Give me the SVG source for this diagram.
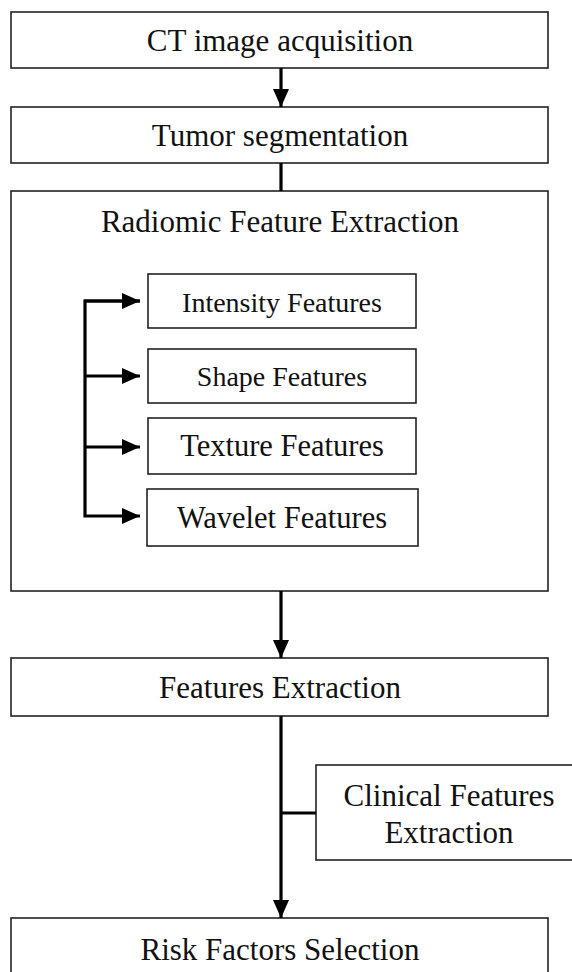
<svg xmlns="http://www.w3.org/2000/svg" width="572" height="972" viewBox="0 0 572 972">
<style>
.box{fill:#fff;stroke:#222;stroke-width:1.6}
.t{font-family:"Liberation Serif","Times New Roman",serif;font-size:31px;fill:#111;text-anchor:middle}
.s{font-size:28px}
.m{font-size:30.5px}
.c{fill:none;stroke:#000;stroke-width:3.2}
</style>
<defs>
<marker id="ah" markerUnits="userSpaceOnUse" markerWidth="18" markerHeight="18" viewBox="0 0 18 18" refX="18" refY="9" orient="auto">
<path d="M0,1 L18,9 L0,17 Z" fill="#000"/>
</marker>
</defs>
<rect width="572" height="972" fill="#fff"/>
<g id="n-ct"><rect class="box" x="11" y="12" width="537" height="56"/><text class="t" x="280" y="51">CT image acquisition</text></g>
<g id="n-tumor"><rect class="box" x="11" y="107" width="537" height="56"/><text class="t" x="280" y="146">Tumor segmentation</text></g>
<g id="n-radiomic"><rect class="box" x="11" y="191" width="537" height="400"/><text class="t" x="280" y="232">Radiomic Feature Extraction</text></g>
<g id="n-intensity"><rect class="box" x="148" y="274" width="268" height="54"/><text class="t s" x="282" y="312">Intensity Features</text></g>
<g id="n-shape"><rect class="box" x="148" y="349" width="268" height="54"/><text class="t s" x="282" y="386">Shape Features</text></g>
<g id="n-texture"><rect class="box" x="148" y="418" width="268" height="56"/><text class="t m" x="282" y="456">Texture Features</text></g>
<g id="n-wavelet"><rect class="box" x="147" y="489" width="271" height="57"/><text class="t m" x="282" y="528">Wavelet Features</text></g>
<g id="n-features"><rect class="box" x="11" y="658" width="537" height="58"/><text class="t" x="280" y="698">Features Extraction</text></g>
<g id="n-clinical"><rect class="box" x="316" y="765" width="270" height="95"/><text class="t" x="449" y="806">Clinical Features</text><text class="t" x="449" y="843">Extraction</text></g>
<g id="n-risk"><rect class="box" x="11" y="918" width="537" height="62"/><text class="t" x="280" y="960">Risk Factors Selection</text></g>
<g id="connectors">
<line class="c" x1="281" y1="68" x2="281" y2="107" marker-end="url(#ah)"/>
<line class="c" x1="281" y1="163" x2="281" y2="191"/>
<path class="c" d="M140,301 H85 V516 H140" marker-end="url(#ah)"/>
<line class="c" x1="84" y1="301" x2="140" y2="301" marker-end="url(#ah)"/>
<line class="c" x1="84" y1="376" x2="140" y2="376" marker-end="url(#ah)"/>
<line class="c" x1="84" y1="447" x2="140" y2="447" marker-end="url(#ah)"/>
<line class="c" x1="281" y1="591" x2="281" y2="658" marker-end="url(#ah)"/>
<line class="c" x1="281" y1="716" x2="281" y2="918" marker-end="url(#ah)"/>
<line class="c" x1="281" y1="813" x2="316" y2="813"/>
</g>
</svg>
